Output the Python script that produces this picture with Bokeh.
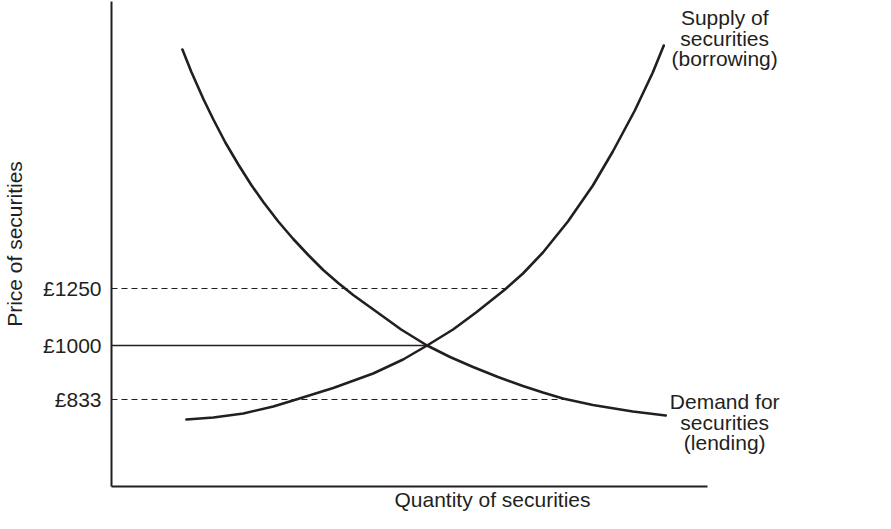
import numpy as np
from bokeh.plotting import figure
from bokeh.embed import file_html
from bokeh.resources import INLINE
from bokeh.models import Range1d, FixedTicker
from bokeh.core.properties import value

# ---- data (schematic units) ----
supply_q = [75, 102, 132, 162, 185, 222, 262, 292, 316, 342, 365, 394, 412, 432,
            457, 482, 502, 524, 542, 553]
supply_p = [67, 69, 73, 80, 87, 98.5, 113, 127, 141, 157, 174, 197, 213, 234,
            265, 301, 335, 376, 414, 441]

demand_q = [71, 80, 92, 102, 114, 127, 140, 152, 167, 182, 197, 212, 227, 242,
            265, 290, 316, 339, 362, 387, 412, 432, 452, 482, 522, 555]
demand_p = [437, 414.5, 387.5, 367, 344, 322, 301.5, 284.5, 265, 247.5, 231.5,
            216.5, 203.5, 191.5, 175, 157, 141, 129.5, 119.5, 109.5, 100.5, 94,
            88, 81.5, 75, 71]

price_labels = ["£833", "£1000", "£1250"]
price_pos = [87, 141, 198]

supply_text = ["Supply of", "securities", "(borrowing)"]
demand_text = ["Demand for", "securities", "(lending)"]
x_title = "Quantity of securities"
y_title = "Price of securities"

INK = "#231f20"
FONT = "Liberation Sans"
FS = "21px"

p = figure(width=875, height=513, output_backend="svg", toolbar_location=None,
           x_range=Range1d(0, 763), y_range=Range1d(0, 485),
           min_border_left=110, min_border_top=1, min_border_bottom=27,
           min_border_right=2)
p.outline_line_color = None
p.grid.visible = False
p.background_fill_color = "white"

# axes
yax = p.yaxis[0]
yax.ticker = FixedTicker(ticks=price_pos)
yax.major_label_overrides = {int(v): t for v, t in zip(price_pos, price_labels)}
yax.major_tick_in = 0
yax.major_tick_out = 0
yax.minor_tick_in = 0
yax.minor_tick_out = 0
yax.major_label_standoff = 10
yax.major_label_text_font = FONT
yax.major_label_text_font_size = FS
yax.major_label_text_color = INK
yax.axis_line_color = INK
yax.axis_line_width = 2
yax.axis_label = y_title
yax.axis_label_text_font = FONT
yax.axis_label_text_font_size = FS
yax.axis_label_text_font_style = "normal"
yax.axis_label_text_color = INK
yax.axis_label_standoff = 14

xax = p.xaxis[0]
xax.ticker = FixedTicker(ticks=[])
xax.bounds = (0, 597)
xax.major_tick_in = 0
xax.major_tick_out = 0
xax.minor_tick_in = 0
xax.minor_tick_out = 0
xax.major_label_text_font_size = "0px"
xax.axis_line_color = INK
xax.axis_line_width = 2
xax.axis_label = x_title
xax.axis_label_text_font = FONT
xax.axis_label_text_font_size = FS
xax.axis_label_text_font_style = "normal"
xax.axis_label_text_color = INK
xax.axis_label_standoff = 1

# reference lines
sq = np.array(supply_q, float); sp = np.array(supply_p, float)
dq = np.array(demand_q, float); dp = np.array(demand_p, float)
x_1250 = float(np.interp(price_pos[2], sp, sq))             # to supply curve
x_833 = float(np.interp(price_pos[0], dp[::-1], dq[::-1]))  # to demand curve
x_1000 = float(np.interp(price_pos[1], sp, sq))             # equilibrium

p.segment(x0=[0, 0], y0=[price_pos[2], price_pos[0]], x1=[x_1250, x_833],
          y1=[price_pos[2], price_pos[0]], line_color=INK, line_width=1.2,
          line_dash="6 4")
p.segment(x0=[0], y0=[price_pos[1]], x1=[x_1000], y1=[price_pos[1]],
          line_color=INK, line_width=1.3)

# curves
p.line(supply_q, supply_p, line_color=INK, line_width=2.6, line_cap="round", line_join="round")
p.line(demand_q, demand_p, line_color=INK, line_width=2.6, line_cap="round", line_join="round")

# curve labels
lab_x = 614
p.text(x=[lab_x] * 3, y=[469, 448.5, 428], text=supply_text,
       text_align="center", text_baseline="alphabetic",
       text_font=value(FONT), text_font_size=FS, text_color=INK)
p.text(x=[lab_x] * 3, y=[85, 64.5, 44], text=demand_text,
       text_align="center", text_baseline="alphabetic",
       text_font=value(FONT), text_font_size=FS, text_color=INK)

open("out.html", "w").write(file_html(p, INLINE))
